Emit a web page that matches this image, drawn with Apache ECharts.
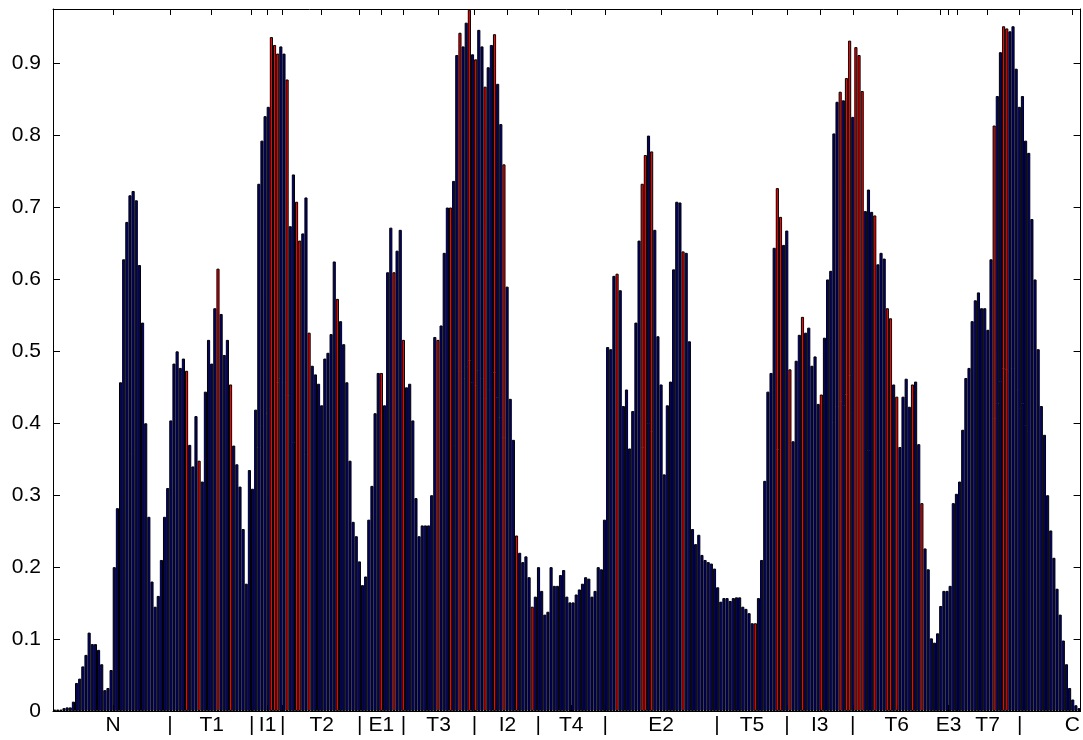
<!DOCTYPE html>
<html>
<head>
<meta charset="utf-8">
<script src="https://cdn.jsdelivr.net/npm/echarts@6/dist/echarts.min.js"></script>
<style>
html, body { margin: 0; padding: 0; background: #fff; }
#main { width: 1083px; height: 740px; }
</style>
</head>
<body>
<div id="main"></div>
<script>
// bar heights, one per residue position
var values = [
	0.002, 0.002, 0.002, 0.004, 0.005, 0.005, 0.013, 0.039, 0.045, 0.062,
	0.078, 0.109, 0.093, 0.093, 0.085, 0.065, 0.029, 0.032, 0.057, 0.2,
	0.282, 0.457, 0.628, 0.68, 0.717, 0.723, 0.71, 0.62, 0.54, 0.40,
	0.27, 0.18, 0.145, 0.16, 0.21, 0.27, 0.31, 0.404, 0.483, 0.5,
	0.477, 0.49, 0.473, 0.37, 0.34, 0.41, 0.348, 0.319, 0.444, 0.516,
	0.483, 0.56, 0.615, 0.552, 0.495, 0.516, 0.454, 0.369, 0.343, 0.312,
	0.253, 0.177, 0.335, 0.309, 0.419, 0.733, 0.793, 0.827, 0.84, 0.937,
	0.926, 0.914, 0.924, 0.914, 0.878, 0.674, 0.746, 0.708, 0.654, 0.664,
	0.714, 0.526, 0.48, 0.468, 0.455, 0.425, 0.49, 0.498, 0.524, 0.625,
	0.573, 0.542, 0.51, 0.457, 0.348, 0.263, 0.243, 0.208, 0.175, 0.187,
	0.266, 0.313, 0.414, 0.47, 0.47, 0.425, 0.61, 0.672, 0.61, 0.64,
	0.669, 0.516, 0.45, 0.455, 0.404, 0.296, 0.243, 0.258, 0.258, 0.258,
	0.3, 0.52, 0.516, 0.536, 0.637, 0.70, 0.70, 0.737, 0.912, 0.943,
	0.924, 0.957, 0.975, 0.913, 0.906, 0.947, 0.924, 0.868, 0.895, 0.926,
	0.941, 0.872, 0.816, 0.76, 0.59, 0.434, 0.377, 0.244, 0.22, 0.207,
	0.215, 0.186, 0.145, 0.159, 0.2, 0.167, 0.134, 0.138, 0.2, 0.174,
	0.174, 0.189, 0.196, 0.159, 0.151, 0.151, 0.162, 0.169, 0.177, 0.186,
	0.184, 0.159, 0.167, 0.2, 0.197, 0.266, 0.506, 0.503, 0.605, 0.608,
	0.585, 0.424, 0.447, 0.365, 0.417, 0.54, 0.654, 0.733, 0.773, 0.8,
	0.778, 0.669, 0.521, 0.454, 0.329, 0.425, 0.458, 0.614, 0.708, 0.707,
	0.639, 0.637, 0.514, 0.253, 0.232, 0.245, 0.217, 0.21, 0.207, 0.205,
	0.198, 0.172, 0.152, 0.157, 0.157, 0.153, 0.157, 0.158, 0.158, 0.145,
	0.142, 0.136, 0.122, 0.122, 0.157, 0.21, 0.32, 0.444, 0.47, 0.644,
	0.727, 0.687, 0.648, 0.668, 0.475, 0.375, 0.487, 0.523, 0.548, 0.526,
	0.533, 0.48, 0.493, 0.427, 0.44, 0.519, 0.6, 0.612, 0.803, 0.847,
	0.861, 0.849, 0.88, 0.932, 0.826, 0.923, 0.912, 0.862, 0.695, 0.725,
	0.694, 0.689, 0.621, 0.637, 0.629, 0.56, 0.546, 0.454, 0.437, 0.367,
	0.437, 0.462, 0.423, 0.454, 0.458, 0.371, 0.289, 0.226, 0.197, 0.101,
	0.095, 0.108, 0.146, 0.167, 0.167, 0.174, 0.289, 0.302, 0.319, 0.391,
	0.463, 0.477, 0.542, 0.571, 0.582, 0.56, 0.56, 0.53, 0.628, 0.814,
	0.855, 0.916, 0.952, 0.949, 0.945, 0.952, 0.893, 0.84, 0.855, 0.793,
	0.776, 0.684, 0.6, 0.503, 0.424, 0.384, 0.3, 0.251, 0.213, 0.17,
	0.134, 0.098, 0.065, 0.032, 0.016, 0.008, 0.004
];

// positions (1-based) of the bars drawn in red
var redBars = [43, 47, 53, 57, 70, 71, 72, 75, 78, 79, 82, 91, 105, 109, 112, 123, 127,
	130, 133, 135, 138, 141, 144, 148, 153, 180, 188, 189, 191, 201, 224, 231, 232,
	235, 239, 245, 251, 253, 254, 256, 257, 258, 262, 266, 267, 269, 274, 277, 300, 303, 304];

// segment marks along the sequence
var tickPos = [19.6, 37.7, 51.0, 63.7, 68.8, 73.6, 86.0, 98.1, 105.0, 112.0, 123.2, 134.6,
	145.1, 154.9, 165.4, 176.2, 194.0, 211.8, 222.9, 234.1, 244.5, 255.0, 269.0,
	283.0, 285.5, 288.1, 297.9, 308.1, 324.9];
var tickLabels = ['N', '|', 'T1', '|', 'I1', '|', 'T2', '|', 'E1', '|', 'T3', '|',
	'I2', '|', 'T4', '|', 'E2', '|', 'T5', '|', 'I3', '|', 'T6',
	'', 'E3', '', 'T7', '|', 'C'];

var yMax = 0.976;

var myChart = echarts.init(document.getElementById('main'));

function initFn() {
	var xMin = 0.5,
		xMax = values.length + 0.5;
	var gridLeft = 53,
		gridRight = 1;
	var barW = (1083 - gridLeft - gridRight) / (xMax - xMin);

	var data = values.map(function(v, i) {
		var isRed = redBars.indexOf(i + 1) >= 0;
		return {
			value: [i + 1, v],
			itemStyle: {
				color: isRed ? '#ff0000' : '#00007f'
			}
		};
	});

	var font = {
		color: '#000',
		fontFamily: 'Liberation Sans, Arial, sans-serif',
		fontSize: 21
	};

	var option = {
		backgroundColor: '#fff',
		animation: false,
		grid: {
			left: gridLeft,
			right: gridRight,
			top: 9,
			bottom: 29,
			containLabel: false
		},
		xAxis: [{
			type: 'value',
			min: xMin,
			max: xMax,
			position: 'bottom',
			axisLine: {
				onZero: false,
				lineStyle: { color: '#000', width: 1 }
			},
			axisTick: {
				inside: true,
				length: 6,
				customValues: tickPos,
				lineStyle: { color: '#000' }
			},
			axisLabel: {
				customValues: tickPos,
				margin: 4,
				color: font.color,
				fontFamily: font.fontFamily,
				fontSize: font.fontSize,
				formatter: function(v) {
					var k = tickPos.indexOf(v);
					return k >= 0 ? tickLabels[k] : '';
				}
			},
			splitLine: { show: false }
		}, {
			type: 'value',
			min: xMin,
			max: xMax,
			position: 'top',
			axisLine: {
				onZero: false,
				lineStyle: { color: '#000', width: 1 }
			},
			axisTick: {
				inside: true,
				length: 6,
				customValues: tickPos,
				lineStyle: { color: '#000' }
			},
			axisLabel: { show: false },
			splitLine: { show: false }
		}],
		yAxis: [{
			type: 'value',
			min: 0,
			max: yMax,
			interval: 0.1,
			axisLine: {
				show: true,
				lineStyle: { color: '#000', width: 1 }
			},
			axisTick: {
				show: true,
				inside: true,
				length: 7,
				lineStyle: { color: '#000' }
			},
			axisLabel: {
				margin: 12,
				showMaxLabel: false,
				color: font.color,
				fontFamily: font.fontFamily,
				fontSize: font.fontSize,
				formatter: function(v) {
					var r = Math.round(v * 10);
					if (Math.abs(v * 10 - r) > 1e-6) return '';
					return r === 0 ? '0' : (r / 10).toFixed(1);
				}
			},
			splitLine: { show: false }
		}, {
			type: 'value',
			min: 0,
			max: yMax,
			interval: 0.1,
			position: 'right',
			axisLine: {
				show: true,
				lineStyle: { color: '#000', width: 1 }
			},
			axisTick: {
				show: true,
				inside: true,
				length: 7,
				lineStyle: { color: '#000' }
			},
			axisLabel: { show: false },
			splitLine: { show: false }
		}],
		series: [{
			type: 'bar',
			xAxisIndex: 0,
			yAxisIndex: 0,
			barWidth: barW,
			data: data,
			itemStyle: {
				borderColor: '#000',
				borderWidth: 1
			}
		}]
	};
	myChart.setOption(option);
}
initFn();
</script>
</body>
</html>
